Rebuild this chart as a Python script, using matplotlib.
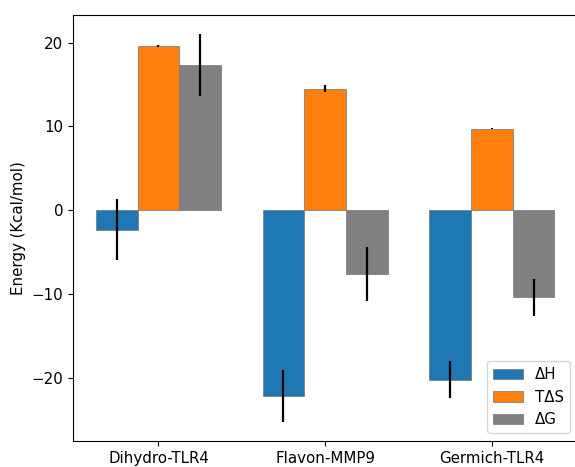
import numpy as np
import matplotlib
matplotlib.use("Agg")
import matplotlib.pyplot as plt

plt.rcParams["font.size"] = 10.8

# Bindungsenergien je Komplex
komplexe = ["Dihydro-TLR4", "Flavon-MMP9", "Germich-TLR4"]
dH = [-2.3, -22.2, -20.2]
TdS = [19.6, 14.5, 9.75]
dG = [17.3, -7.6, -10.4]
dH_err = [3.6, 3.1, 2.2]
TdS_err = [0.1, 0.4, 0.05]
dG_err = [3.7, 3.2, 2.2]

x = np.arange(len(komplexe))
breite = 0.25

fig = plt.figure(figsize=(5.75, 4.67), dpi=100)
ax = fig.add_axes([0.127, 0.056, 0.877, 0.912])

# Balken mit Fehlerbalken (ohne Kappen)
fehler_stil = dict(ecolor="black", elinewidth=1.6, capsize=0)
ax.bar(x - breite, dH, breite, yerr=dH_err, color="#1f77b4", edgecolor="grey",
       linewidth=0.6, error_kw=fehler_stil, label="ΔH")
ax.bar(x, TdS, breite, yerr=TdS_err, color="#ff7f0e", edgecolor="grey",
       linewidth=0.6, error_kw=fehler_stil, label="TΔS")
ax.bar(x + breite, dG, breite, yerr=dG_err, color="grey", edgecolor="grey",
       linewidth=0.6, error_kw=fehler_stil, label="ΔG")

ax.set_xticks(x)
ax.set_xticklabels(komplexe)
ax.set_ylabel("Energy (Kcal/mol)")
ax.set_ylim(-27.5, 23.3)
ax.legend(loc="lower right")

plt.savefig("out.png", dpi=100)
